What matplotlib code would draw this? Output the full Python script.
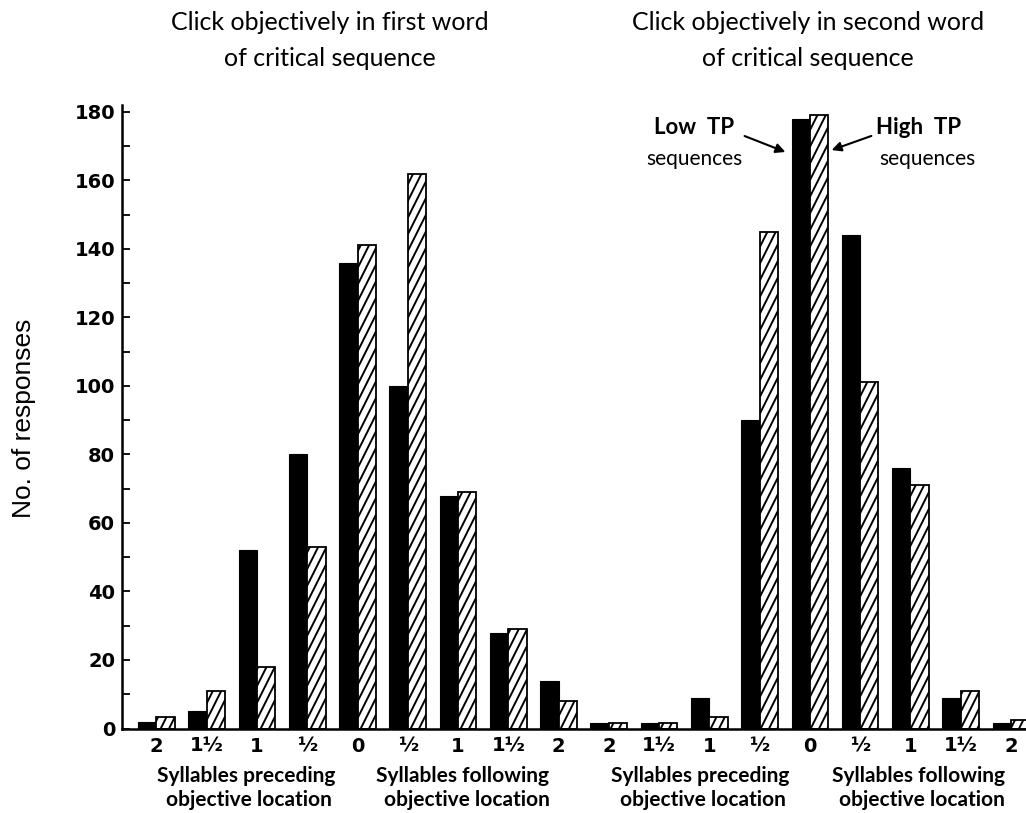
import numpy as np
import matplotlib
matplotlib.use("Agg")
import matplotlib.pyplot as plt
import matplotlib.hatch as mhatch
from matplotlib.path import Path

# ---- steep "/" hatch like the original figure ----
class SteepNorthEast(mhatch.HatchPatternBase):
    def __init__(self, hatch, density):
        self.num_lines = int((hatch.count('/') + hatch.count('x') + hatch.count('X')) * 6)
        if self.num_lines % 2:
            self.num_lines += 1
        n = self.num_lines
        self.ks = np.arange(-n // 2, n + 1) if n else np.array([])
        self.num_vertices = 2 * len(self.ks)

    def set_vertices_and_codes(self, vertices, codes):
        n = self.num_lines
        x0 = self.ks / n
        vertices[0::2, 0] = x0
        vertices[0::2, 1] = 0.0
        vertices[1::2, 0] = x0 + 0.5
        vertices[1::2, 1] = 1.0
        codes[0::2] = Path.MOVETO
        codes[1::2] = Path.LINETO

mhatch._hatch_types[:] = [SteepNorthEast if t is mhatch.NorthEastHatch else t
                          for t in mhatch._hatch_types]
try:
    Path.hatch.cache_clear()
except Exception:
    pass

plt.rcParams['hatch.linewidth'] = 1.4
plt.rcParams['font.family'] = ['DejaVu Sans']
LATO = ['Lato', 'DejaVu Sans']
HELV = ['Liberation Sans', 'DejaVu Sans']

# ---- data ----
pos_labels = ['2', '1½', '1', '½', '0', '½', '1', '1½', '2']
low_first = [2, 5, 52, 80, 136, 100, 68, 28, 14]
high_first = [3.5, 11, 18, 53, 141, 162, 69, 29, 8]
low_second = [1.5, 1.5, 9, 90, 178, 144, 76, 9, 1.5]
high_second = [1.5, 1.5, 3.3, 145, 179, 101, 71, 11, 2.5]
yticks = [0, 20, 40, 60, 80, 100, 120, 140, 160, 180]

low = low_first + low_second
high = high_first + high_second
labels = pos_labels + pos_labels
x = np.arange(len(low))

W, H = 1026, 813
fig = plt.figure(figsize=(W / 100, H / 100), dpi=100)
left_px, base_px, top_px = 122, 728.5, 105
ax = fig.add_axes([left_px / W, (H - base_px) / H, (W - left_px) / W, (base_px - top_px) / H])

w = 0.365
ax.bar(x - w / 2, low, width=w, color='black', edgecolor='black', linewidth=0.8)
ax.bar(x + w / 2, high, width=w, color='white', edgecolor='black', linewidth=1.3, hatch='//')

ax.set_xlim(-0.686, 17.30)
ax.set_ylim(0, 182)
ax.spines['top'].set_visible(False)
ax.spines['right'].set_visible(False)
ax.spines['left'].set_linewidth(1.8)
ax.spines['bottom'].set_linewidth(1.8)

ax.set_yticks(yticks)
ax.set_yticks(np.arange(10, 180, 20), minor=True)
ax.tick_params(axis='y', which='both', direction='in', length=6, width=1.3,
               labelsize=14, pad=5)
for t in ax.get_yticklabels():
    t.set_fontweight('bold')
ax.set_xticks(x)
ax.set_xticklabels(labels, fontsize=14, fontweight='bold')
ax.tick_params(axis='x', length=0, pad=6)

def fx(px):
    return px / W

def fy(py):
    return 1 - py / H

# x group descriptions
for cx in (246, 700):
    fig.text(fx(cx), fy(776), 'Syllables preceding', ha='center', va='center',
             fontsize=15, fontweight='bold', family=LATO)
    fig.text(fx(cx + 3), fy(800), 'objective location', ha='center', va='center',
             fontsize=15, fontweight='bold', family=LATO)
for cx in (463, 918):
    fig.text(fx(cx), fy(776), 'Syllables following', ha='center', va='center',
             fontsize=15, fontweight='bold', family=LATO)
    fig.text(fx(cx + 4), fy(800), 'objective location', ha='center', va='center',
             fontsize=15, fontweight='bold', family=LATO)

# titles
for cx, line1 in ((330, 'Click objectively in first word'), (808, 'Click objectively in second word')):
    fig.text(fx(cx), fy(23), line1, ha='center', va='center', fontsize=18, family=LATO)
    fig.text(fx(cx), fy(59), 'of critical sequence', ha='center', va='center', fontsize=18, family=LATO)

# y label
fig.text(fx(24), fy(418), 'No. of responses', rotation=90, ha='center', va='center',
         fontsize=19, family=HELV)

# annotations
def px2data(px, py):
    return ax.transData.inverted().transform(fig.transFigure.transform((fx(px), fy(py))))

fig.text(fx(694), fy(128), 'Low  TP', ha='center', va='center', fontsize=16, fontweight='bold', family=LATO)
fig.text(fx(694), fy(159), 'sequences', ha='center', va='center', fontsize=15, family=LATO)
fig.text(fx(919), fy(128), 'High  TP', ha='center', va='center', fontsize=16, fontweight='bold', family=LATO)
fig.text(fx(927), fy(159), 'sequences', ha='center', va='center', fontsize=15, family=LATO)

ax.annotate('', xy=px2data(788, 153), xytext=px2data(742, 135),
            arrowprops=dict(arrowstyle='-|>', color='black', lw=1.5, mutation_scale=14))
ax.annotate('', xy=px2data(829, 151), xytext=px2data(874, 135),
            arrowprops=dict(arrowstyle='-|>', color='black', lw=1.5, mutation_scale=14))

fig.savefig('out.png', dpi=100)
